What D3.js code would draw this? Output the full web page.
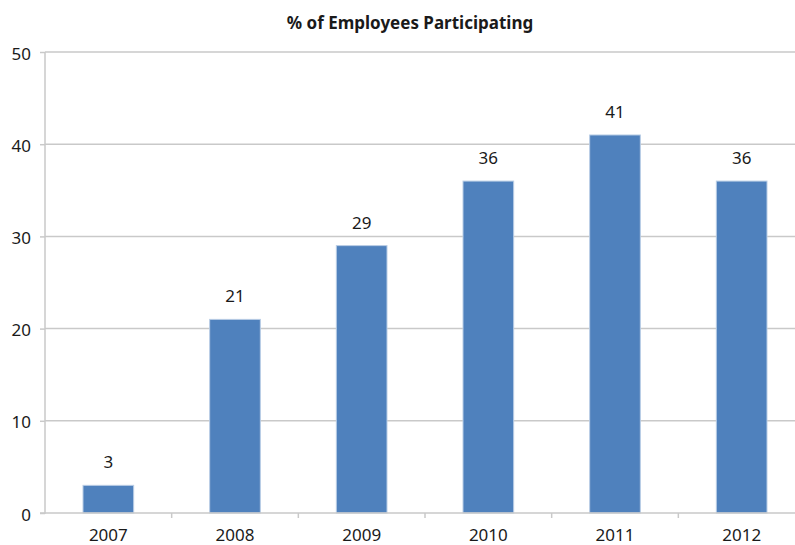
<!DOCTYPE html>
<html><head><meta charset="utf-8">
<script src="https://cdn.jsdelivr.net/npm/d3@7"></script>
<style>body{margin:0;background:#fff}svg{display:block}</style>
</head><body>
<svg id="c" width="795" height="545"></svg>
<script>
const categories = ["2007","2008","2009","2010","2011","2012"];
const values = [3, 21, 29, 36, 41, 36];
const yTicks = [0, 10, 20, 30, 40, 50];
const title = "% of Employees Participating";

const svg = d3.select("#c");
const m = {left: 45, right: 805, top: 52, bottom: 513};
const font = "'Noto Sans', 'Open Sans', sans-serif";
const grid = "#c9c9c9";
const ink = "#1a1a1a";

const x = d3.scaleBand().domain(categories).range([m.left, m.right]).paddingInner(0.6).paddingOuter(0.3);
const y = d3.scaleLinear().domain([0, 50]).range([m.bottom, m.top]);

// gridlines
svg.append("g").selectAll("line").data(yTicks.filter(d => d > 0)).join("line")
  .attr("x1", m.left).attr("x2", m.right)
  .attr("y1", d => y(d)).attr("y2", d => y(d))
  .attr("stroke", grid).attr("stroke-width", 1.5);

// y axis
const ya = svg.append("g").attr("transform", `translate(${m.left},0)`)
  .call(d3.axisLeft(y).tickValues(yTicks).tickSize(5).tickPadding(9));
ya.select(".domain").attr("stroke", grid).attr("stroke-width", 1.5).attr("d", `M-5,${y(0)}H0V${y(50)}`);
ya.selectAll(".tick line").attr("stroke", grid).attr("stroke-width", 1.5);
ya.selectAll(".tick text").attr("font-family", font).attr("font-size", 17).attr("fill", ink).attr("dy", "0.42em");

// bars
svg.append("g").selectAll("rect").data(values).join("rect")
  .attr("x", (d, i) => x(categories[i]))
  .attr("width", x.bandwidth())
  .attr("y", d => y(d))
  .attr("height", d => y(0) - y(d))
  .attr("fill", "#4f81bd")
  .attr("stroke", "#b9cde5").attr("stroke-width", 1);

// x axis
const outer = d3.scaleBand().domain(categories).range([m.left, m.right]);
const xa = svg.append("g").attr("transform", `translate(0,${m.bottom})`);
xa.append("line").attr("x1", m.left).attr("x2", m.right).attr("y1", 0).attr("y2", 0)
  .attr("stroke", grid).attr("stroke-width", 1.5);
xa.selectAll("line.t").data(categories).join("line").attr("class", "t")
  .attr("x1", d => outer(d) + outer.bandwidth()).attr("x2", d => outer(d) + outer.bandwidth())
  .attr("y1", 0).attr("y2", 5).attr("stroke", grid).attr("stroke-width", 1.5);
xa.selectAll("text").data(categories).join("text")
  .attr("x", d => x(d) + x.bandwidth() / 2).attr("y", 28)
  .attr("text-anchor", "middle").attr("font-family", font).attr("font-size", 17).attr("fill", ink)
  .text(d => d);

// value labels
svg.append("g").selectAll("text").data(values).join("text")
  .attr("x", (d, i) => x(categories[i]) + x.bandwidth() / 2)
  .attr("y", d => y(d) - 17)
  .attr("text-anchor", "middle").attr("font-family", font).attr("font-size", 17).attr("fill", ink)
  .text(d => d);

// title
svg.append("text").attr("x", 410).attr("y", 29).attr("text-anchor", "middle")
  .attr("font-family", font).attr("font-size", 17).attr("font-weight", "bold").attr("fill", ink)
  .text(title);
</script>
</body></html>
